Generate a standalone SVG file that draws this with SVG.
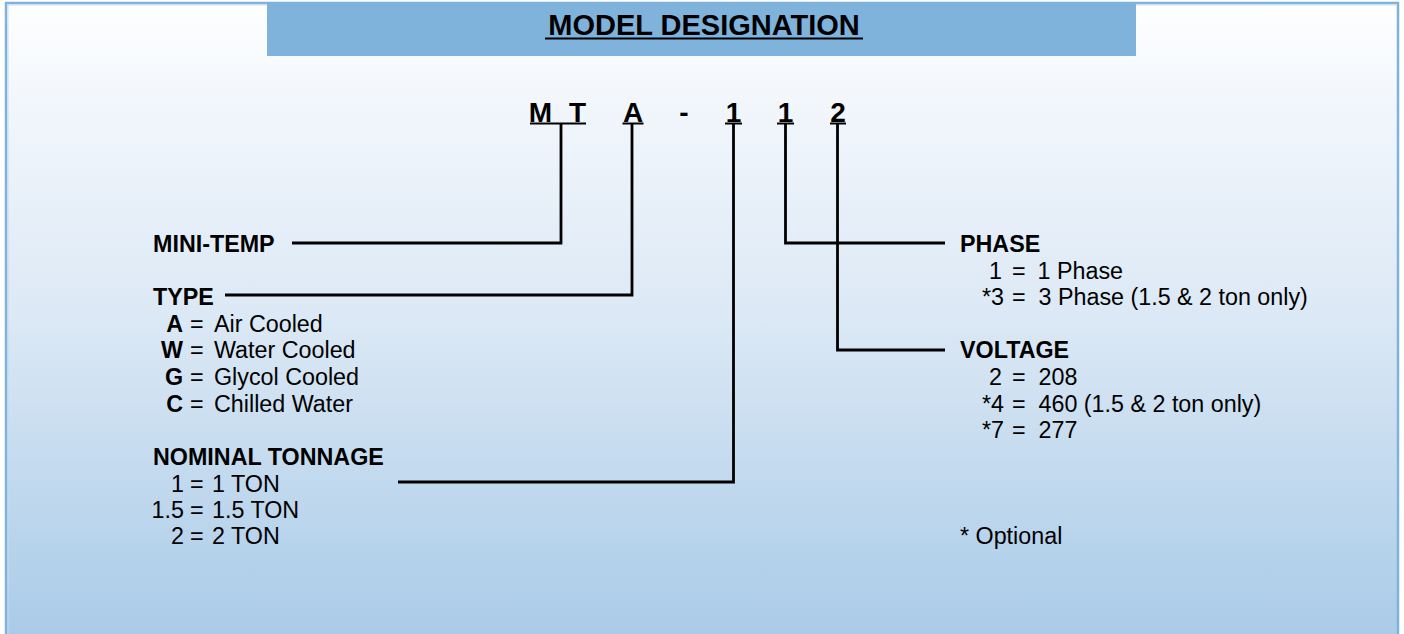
<svg xmlns="http://www.w3.org/2000/svg" width="1404" height="634" viewBox="0 0 1404 634">
  <defs>
    <linearGradient id="bg" x1="0" y1="0" x2="0" y2="1">
      <stop offset="0" stop-color="#ffffff"/>
      <stop offset="0.1" stop-color="#f6f9fd"/>
      <stop offset="0.5" stop-color="#dbe8f5"/>
      <stop offset="0.87" stop-color="#b5d2eb"/>
      <stop offset="1" stop-color="#a9cae7"/>
    </linearGradient>
    <style>
      text { font-family: "Liberation Sans", Arial, sans-serif; fill: #000; }
      .lbl { font-size: 23.3px; }
      .b { font-weight: bold; }
      .code { font-size: 28px; font-weight: bold; text-anchor: middle; }
      .title { font-size: 29px; font-weight: bold; text-anchor: middle; }
      .ul { stroke: #000; stroke-width: 2; }
      .conn { fill: none; stroke: #000; stroke-width: 2.8; stroke-linejoin: miter; stroke-linecap: butt; }
    </style>
  </defs>

  <rect x="6" y="3" width="1392" height="640" fill="url(#bg)" stroke="#7fb3db" stroke-width="2.5"/>
  <line x1="8" y1="5" x2="1396" y2="5" stroke="#c3dbef" stroke-width="1"/>
  <line x1="8" y1="5" x2="8" y2="634" stroke="#c3dbef" stroke-width="1"/>

  <g id="title">
    <rect x="267" y="2" width="869" height="54" fill="#80b3dc"/>
    <text class="title" x="704" y="35">MODEL DESIGNATION</text>
    <line class="ul" x1="545" y1="38.5" x2="863" y2="38.5"/>
  </g>

  <g id="model-code">
    <text class="code" x="540.5" y="121.5">M</text>
    <text class="code" x="577.5" y="121.5">T</text>
    <text class="code" x="633" y="121.5">A</text>
    <text class="code" x="684" y="121.5">-</text>
    <text class="code" x="733.5" y="121.5">1</text>
    <text class="code" x="785.5" y="121.5">1</text>
    <text class="code" x="838" y="121.5">2</text>
    <line class="ul" x1="530" y1="123.5" x2="586" y2="123.5"/>
    <line class="ul" x1="622.5" y1="123.5" x2="643.5" y2="123.5"/>
    <line class="ul" x1="725" y1="123.5" x2="742" y2="123.5"/>
    <line class="ul" x1="777" y1="123.5" x2="794" y2="123.5"/>
    <line class="ul" x1="830" y1="123.5" x2="846" y2="123.5"/>
  </g>

  <g id="connectors">
    <polyline class="conn" points="561,124 561,243 292,243"/>
    <polyline class="conn" points="632,124 632,295 225,295"/>
    <polyline class="conn" points="733.5,124 733.5,482 398,482"/>
    <polyline class="conn" points="785.5,124 785.5,243 945,243"/>
    <polyline class="conn" points="837.5,124 837.5,350 945,350"/>
  </g>

  <g id="mini-temp">
    <text class="lbl b" x="153" y="251.5">MINI-TEMP</text>
  </g>

  <g id="type">
    <text class="lbl b" x="153" y="305">TYPE</text>
    <text class="lbl"><tspan class="b" x="183" y="331.5" text-anchor="end">A</tspan><tspan x="190" y="331.5">=</tspan><tspan x="214" y="331.5">Air Cooled</tspan></text>
    <text class="lbl"><tspan class="b" x="183" y="358" text-anchor="end">W</tspan><tspan x="190" y="358">=</tspan><tspan x="214" y="358">Water Cooled</tspan></text>
    <text class="lbl"><tspan class="b" x="183" y="384.5" text-anchor="end">G</tspan><tspan x="190" y="384.5">=</tspan><tspan x="214" y="384.5">Glycol Cooled</tspan></text>
    <text class="lbl"><tspan class="b" x="183" y="411.5" text-anchor="end">C</tspan><tspan x="190" y="411.5">=</tspan><tspan x="214" y="411.5">Chilled Water</tspan></text>
  </g>

  <g id="nominal-tonnage">
    <text class="lbl b" x="153" y="465">NOMINAL TONNAGE</text>
    <text class="lbl"><tspan x="184" y="491.5" text-anchor="end">1</tspan><tspan x="190" y="491.5">=</tspan><tspan x="212" y="491.5">1 TON</tspan></text>
    <text class="lbl"><tspan x="184" y="518" text-anchor="end">1.5</tspan><tspan x="190" y="518">=</tspan><tspan x="212" y="518">1.5 TON</tspan></text>
    <text class="lbl"><tspan x="184" y="544" text-anchor="end">2</tspan><tspan x="190" y="544">=</tspan><tspan x="212" y="544">2 TON</tspan></text>
  </g>

  <g id="phase">
    <text class="lbl b" x="960" y="251.5">PHASE</text>
    <text class="lbl"><tspan x="989" y="278.5">1</tspan><tspan x="1012" y="278.5">=</tspan><tspan x="1037.5" y="278.5">1 Phase</tspan></text>
    <text class="lbl"><tspan x="982" y="304.5">*3</tspan><tspan x="1012" y="304.5">=</tspan><tspan x="1038.5" y="304.5">3 Phase (1.5 &amp; 2 ton only)</tspan></text>
  </g>

  <g id="voltage">
    <text class="lbl b" x="960" y="358">VOLTAGE</text>
    <text class="lbl"><tspan x="989" y="385">2</tspan><tspan x="1012" y="385">=</tspan><tspan x="1038.5" y="385">208</tspan></text>
    <text class="lbl"><tspan x="982" y="411.5">*4</tspan><tspan x="1012" y="411.5">=</tspan><tspan x="1038.5" y="411.5">460 (1.5 &amp; 2 ton only)</tspan></text>
    <text class="lbl"><tspan x="982" y="438">*7</tspan><tspan x="1012" y="438">=</tspan><tspan x="1038.5" y="438">277</tspan></text>
  </g>

  <g id="optional-note">
    <text class="lbl" x="960" y="544">* Optional</text>
  </g>
</svg>
